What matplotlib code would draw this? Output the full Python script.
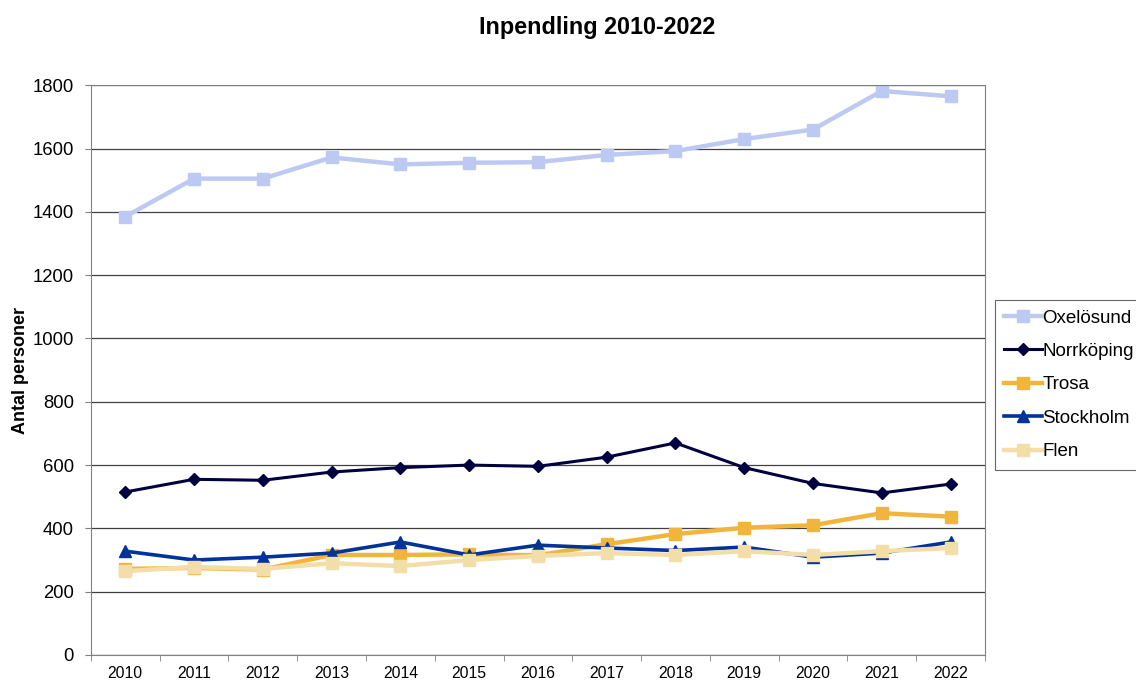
import matplotlib.pyplot as plt
import numpy as np

years = [str(y) for y in range(2010, 2023)]
oxelosund = [1385, 1505, 1505, 1572, 1550, 1555, 1557, 1580, 1592, 1630, 1660, 1782, 1765]
norrkoping = [515, 555, 552, 578, 592, 600, 596, 625, 670, 592, 542, 512, 540]
trosa = [272, 275, 270, 316, 316, 318, 315, 350, 382, 402, 410, 448, 437]
stockholm = [328, 300, 309, 322, 357, 316, 347, 338, 330, 341, 309, 322, 357]
flen = [265, 278, 272, 290, 281, 300, 313, 322, 316, 328, 316, 328, 338]

plt.rcParams['font.family'] = ['Liberation Sans', 'DejaVu Sans']
fig = plt.figure(figsize=(11.36, 6.82), dpi=100)
ax = fig.add_axes([0.080, 0.0396, 0.787, 0.8354])

x = np.arange(len(years))
ax.plot(x, oxelosund, color='#BCC9F2', lw=3.2, marker='s', ms=8, label='Oxelösund')
ax.plot(x, norrkoping, color='#000040', lw=2.2, marker='D', ms=6, label='Norrköping')
ax.plot(x, trosa, color='#F2B53C', lw=3.2, marker='s', ms=8, label='Trosa')
ax.plot(x, stockholm, color='#003399', lw=2.6, marker='^', ms=8, label='Stockholm')
ax.plot(x, flen, color='#F3DEAA', lw=3.2, marker='s', ms=8, label='Flen')

ax.set_xlim(-0.5, len(years) - 0.5)
ax.set_ylim(0, 1800)
ax.set_yticks(range(0, 1801, 200))
ax.set_xticks(x)
ax.set_xticklabels(years, fontsize=11.3)
ax.set_xticks(np.arange(-0.5, len(years), 1), minor=True)
ax.tick_params(axis='x', which='major', length=0, pad=8)
ax.tick_params(axis='x', which='minor', length=4.5, color='#808080')
ax.tick_params(axis='y', labelsize=13.3, length=4.3, pad=8, color='#808080')
ax.yaxis.grid(True, color='#404040', lw=0.9)
ax.set_axisbelow(True)
for s in ax.spines.values():
    s.set_color('#808080')

ax.set_ylabel('Antal personer', fontsize=13, fontweight='bold', labelpad=2.5)
fig.suptitle('Inpendling 2010-2022', fontsize=16.8, fontweight='bold', x=0.526, y=0.976)

leg = ax.legend(loc='center left', bbox_to_anchor=(1.011, 0.474), fontsize=13.5,
                frameon=True, fancybox=False, edgecolor='#404040',
                handlelength=2.0, handletextpad=0.05, borderpad=0.5,
                borderaxespad=0, labelspacing=0.87)
leg.get_frame().set_linewidth(0.8)

fig.savefig('out.png', dpi=100)
